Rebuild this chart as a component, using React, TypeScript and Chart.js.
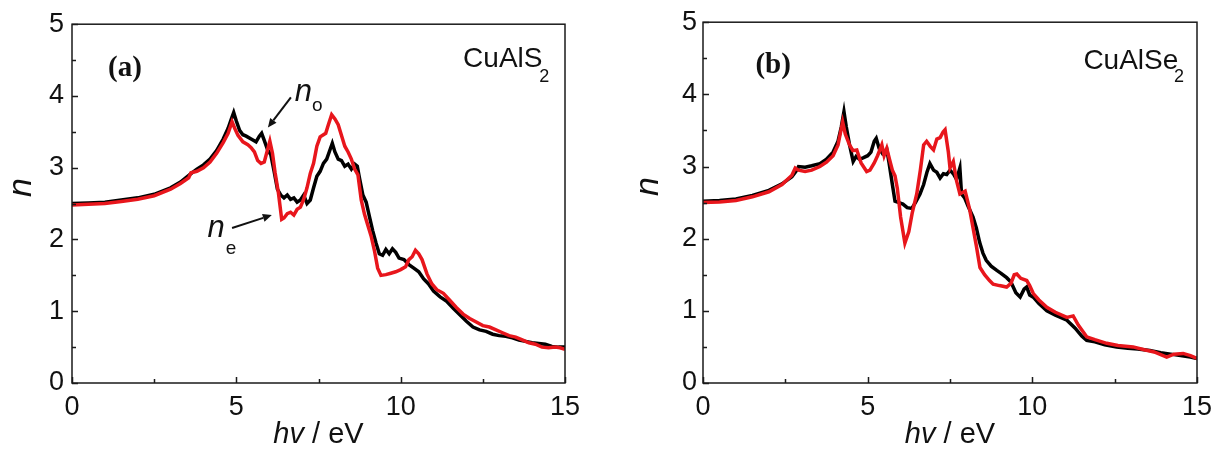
import { useEffect, useRef } from "react";
import { Chart, registerables } from "chart.js";

Chart.register(...registerables);

// ---------- Panel (a): CuAlS2 ----------
const aBlackX = [0, 0.5, 1, 1.5, 2, 2.5, 3, 3.3, 3.6, 3.8, 4.0, 4.2, 4.4, 4.6, 4.75, 4.85, 4.92, 5.0, 5.1, 5.2, 5.3, 5.45, 5.6, 5.7, 5.77, 5.85, 5.95, 6.05, 6.15, 6.25, 6.35, 6.45, 6.55, 6.65, 6.75, 6.85, 6.95, 7.05, 7.15, 7.25, 7.35, 7.45, 7.55, 7.65, 7.75, 7.85, 7.92, 8.0, 8.1, 8.2, 8.3, 8.4, 8.5, 8.6, 8.68, 8.75, 8.85, 8.95, 9.05, 9.15, 9.25, 9.35, 9.45, 9.55, 9.65, 9.75, 9.85, 9.95, 10.1, 10.25, 10.4, 10.55, 10.7, 10.85, 11.0, 11.2, 11.4, 11.6, 11.8, 12.0, 12.2, 12.4, 12.6, 12.8, 13.0, 13.2, 13.4, 13.6, 13.8, 14.0, 14.2, 14.4, 14.6, 14.8, 15.0];
const aBlackN = [2.50, 2.51, 2.52, 2.55, 2.58, 2.63, 2.72, 2.80, 2.91, 2.98, 3.04, 3.12, 3.24, 3.40, 3.55, 3.68, 3.77, 3.65, 3.52, 3.46, 3.44, 3.40, 3.36, 3.44, 3.48, 3.38, 3.25, 3.18, 2.95, 2.70, 2.62, 2.58, 2.62, 2.56, 2.58, 2.52, 2.55, 2.62, 2.50, 2.55, 2.72, 2.88, 2.95, 3.06, 3.12, 3.25, 3.34, 3.22, 3.12, 3.10, 3.02, 3.05, 2.98, 3.05, 3.02, 2.85, 2.62, 2.52, 2.32, 2.12, 1.95, 1.80, 1.78, 1.86, 1.80, 1.87, 1.82, 1.74, 1.72, 1.65, 1.60, 1.55, 1.45, 1.38, 1.28, 1.20, 1.14, 1.04, 0.95, 0.86, 0.78, 0.74, 0.72, 0.68, 0.66, 0.65, 0.63, 0.60, 0.58, 0.56, 0.55, 0.54, 0.51, 0.50, 0.50];

const aRedX = [0, 0.5, 1, 1.5, 2, 2.5, 3, 3.3, 3.55, 3.62, 3.8, 4.0, 4.2, 4.4, 4.6, 4.75, 4.87, 4.95, 5.05, 5.2, 5.35, 5.45, 5.55, 5.65, 5.75, 5.85, 5.95, 6.02, 6.1, 6.18, 6.28, 6.38, 6.45, 6.55, 6.65, 6.75, 6.85, 6.95, 7.05, 7.15, 7.25, 7.35, 7.45, 7.55, 7.65, 7.72, 7.8, 7.9, 8.0, 8.1, 8.2, 8.3, 8.4, 8.5, 8.6, 8.7, 8.8, 8.9, 9.0, 9.1, 9.2, 9.3, 9.4, 9.55, 9.7, 9.85, 10.0, 10.15, 10.25, 10.35, 10.45, 10.55, 10.65, 10.8, 10.95, 11.1, 11.3, 11.5, 11.7, 11.9, 12.1, 12.3, 12.5, 12.7, 12.9, 13.1, 13.3, 13.5, 13.7, 13.9, 14.1, 14.3, 14.5, 14.7, 14.85, 15.0];
const aRedN = [2.48, 2.49, 2.50, 2.53, 2.56, 2.61, 2.70, 2.78, 2.86, 2.93, 2.95, 3.00, 3.08, 3.20, 3.35, 3.48, 3.64, 3.55, 3.45, 3.36, 3.32, 3.28, 3.22, 3.10, 3.06, 3.08, 3.25, 3.37, 3.20, 2.93, 2.65, 2.28, 2.30, 2.36, 2.38, 2.34, 2.42, 2.45, 2.56, 2.72, 2.92, 3.06, 3.30, 3.43, 3.46, 3.48, 3.60, 3.74, 3.68, 3.60, 3.45, 3.30, 3.22, 3.12, 2.98, 2.90, 2.55, 2.35, 2.20, 2.05, 1.85, 1.60, 1.50, 1.51, 1.53, 1.55, 1.58, 1.62, 1.72, 1.76, 1.85, 1.80, 1.72, 1.52, 1.38, 1.30, 1.25, 1.15, 1.05, 0.96, 0.90, 0.85, 0.80, 0.78, 0.74, 0.70, 0.66, 0.64, 0.60, 0.56, 0.54, 0.50, 0.49, 0.50, 0.49, 0.47];

// ---------- Panel (b): CuAlSe2 ----------
const bBlackX = [0, 0.5, 1, 1.5, 2, 2.4, 2.7, 2.85, 2.9, 3.1, 3.3, 3.55, 3.75, 3.95, 4.1, 4.2, 4.28, 4.35, 4.45, 4.56, 4.65, 4.75, 4.86, 5.0, 5.1, 5.2, 5.26, 5.35, 5.45, 5.58, 5.65, 5.75, 5.83, 5.95, 6.07, 6.2, 6.34, 6.45, 6.59, 6.7, 6.8, 6.89, 7.0, 7.1, 7.2, 7.3, 7.4, 7.5, 7.6, 7.7, 7.8, 7.85, 7.95, 8.05, 8.2, 8.3, 8.4, 8.5, 8.6, 8.75, 8.92, 9.05, 9.22, 9.35, 9.5, 9.63, 9.75, 9.83, 9.92, 10.03, 10.2, 10.44, 10.7, 11.05, 11.3, 11.5, 11.65, 11.9, 12.2, 12.56, 12.9, 13.2, 13.57, 13.9, 14.2, 14.5, 14.8, 15.0];
const bBlackN = [2.52, 2.53, 2.55, 2.60, 2.67, 2.76, 2.86, 2.95, 3.00, 2.99, 3.01, 3.04, 3.10, 3.20, 3.35, 3.55, 3.76, 3.55, 3.30, 3.07, 3.14, 3.10, 3.12, 3.15, 3.20, 3.35, 3.39, 3.25, 3.18, 3.24, 3.05, 2.75, 2.52, 2.50, 2.48, 2.43, 2.42, 2.50, 2.62, 2.75, 2.92, 3.04, 2.95, 2.92, 2.84, 2.90, 2.89, 2.95, 2.90, 2.82, 2.98, 2.62, 2.56, 2.45, 2.30, 2.15, 1.95, 1.80, 1.70, 1.62, 1.56, 1.52, 1.46, 1.40, 1.25, 1.19, 1.30, 1.33, 1.22, 1.19, 1.10, 1.00, 0.94, 0.87, 0.76, 0.65, 0.59, 0.57, 0.53, 0.50, 0.48, 0.47, 0.45, 0.42, 0.40, 0.38, 0.36, 0.34];

const bRedX = [0, 0.5, 1, 1.5, 2, 2.4, 2.7, 2.8, 2.9, 3.1, 3.3, 3.55, 3.75, 3.95, 4.1, 4.24, 4.32, 4.45, 4.55, 4.67, 4.8, 4.97, 5.07, 5.2, 5.3, 5.43, 5.5, 5.58, 5.68, 5.75, 5.83, 5.9, 6.0, 6.13, 6.25, 6.35, 6.49, 6.6, 6.7, 6.79, 6.9, 7.0, 7.1, 7.2, 7.29, 7.35, 7.45, 7.5, 7.6, 7.7, 7.8, 7.96, 8.1, 8.2, 8.3, 8.41, 8.55, 8.7, 8.81, 9.0, 9.22, 9.35, 9.45, 9.53, 9.65, 9.83, 9.92, 10.03, 10.2, 10.44, 10.7, 11.05, 11.24, 11.4, 11.65, 11.9, 12.26, 12.6, 13.06, 13.4, 13.7, 14.08, 14.3, 14.58, 14.8, 15.0];
const bRedN = [2.50, 2.51, 2.53, 2.58, 2.65, 2.75, 2.88, 2.98, 2.95, 2.93, 2.95, 3.00, 3.06, 3.15, 3.30, 3.62, 3.45, 3.30, 3.22, 3.23, 3.05, 2.93, 2.95, 3.05, 3.15, 3.30, 3.15, 3.25, 3.07, 2.95, 2.87, 2.70, 2.30, 1.94, 2.10, 2.35, 2.62, 2.95, 3.30, 3.35, 3.28, 3.23, 3.38, 3.40, 3.48, 3.51, 3.20, 2.98, 3.07, 2.80, 2.62, 2.66, 2.40, 2.15, 1.90, 1.60, 1.50, 1.42, 1.37, 1.35, 1.33, 1.38, 1.50, 1.51, 1.45, 1.42, 1.35, 1.24, 1.15, 1.05, 0.98, 0.91, 0.93, 0.80, 0.64, 0.60, 0.55, 0.52, 0.50, 0.46, 0.43, 0.36, 0.40, 0.41, 0.38, 0.34];

// axis ranges / tick labels
const xMin = 0, xMax = 15, xStep = 5, xMinorStep = 2.5;
const yMin = 0, yMax = 5, yStep = 1, yMinorStep = 0.5;
const xTitleItalic = "hv";
const xTitleRest = " / eV";
const yTitle = "n";

const SANS = '"Liberation Sans", Arial, Helvetica, sans-serif';
const SERIF = '"Liberation Serif", "Times New Roman", serif';
const RED = "#e8161c";

type Run = { t: string; x: number; y: number; font: string; align?: CanvasTextAlign };
type Arrow = { x1: number; y1: number; x2: number; y2: number };

const pts = (xs: number[], ys: number[]) => xs.map((x, i) => ({ x, y: ys[i] }));

const decorPlugin = {
  id: "decor",
  afterDraw(chart: any, _args: any, opts: any) {
    const { ctx, chartArea: ca, scales } = chart;
    const sx = scales.x, sy = scales.y;
    ctx.save();
    ctx.strokeStyle = "#1a1a1a";
    ctx.lineWidth = 1.5;
    // inward ticks (major + minor)
    ctx.beginPath();
    for (let v = xMin; v <= xMax + 1e-6; v += xMinorStep) {
      const px = Math.round(sx.getPixelForValue(v)) + 0.5;
      const len = Math.abs(v % xStep) < 1e-6 ? 6 : 4;
      ctx.moveTo(px, ca.bottom);
      ctx.lineTo(px, ca.bottom - len);
    }
    for (let v = yMin; v <= yMax + 1e-6; v += yMinorStep) {
      const py = Math.round(sy.getPixelForValue(v)) + 0.5;
      const len = Math.abs(v % yStep) < 1e-6 ? 6 : 4;
      ctx.moveTo(ca.left, py);
      ctx.lineTo(ca.left + len, py);
    }
    ctx.stroke();
    // frame
    ctx.strokeRect(ca.left, ca.top, ca.right - ca.left, ca.bottom - ca.top);

    // x title: italic "hv" + " / eV"
    ctx.fillStyle = "#111";
    ctx.textBaseline = "alphabetic";
    const fi = `italic 29px ${SANS}`;
    const fn = `29px ${SANS}`;
    ctx.font = fi;
    const w1 = ctx.measureText(xTitleItalic).width;
    ctx.font = fn;
    const w2 = ctx.measureText(xTitleRest).width;
    const cx = (ca.left + ca.right) / 2;
    const bx = cx - (w1 + w2) / 2;
    ctx.font = fi;
    ctx.textAlign = "left";
    ctx.fillText(xTitleItalic, bx, ca.bottom + 60);
    ctx.font = fn;
    ctx.fillText(xTitleRest, bx + w1, ca.bottom + 60);

    // y title: italic n, rotated
    ctx.save();
    ctx.translate(ca.left - opts.yTitleDx, (ca.top + ca.bottom) / 2 - 16);
    ctx.rotate(-Math.PI / 2);
    ctx.font = `italic 34px ${SANS}`;
    ctx.textAlign = "center";
    ctx.textBaseline = "middle";
    ctx.fillText(yTitle, 0, 0);
    ctx.restore();

    // text annotations (positions in data units)
    (opts.runs as Run[]).forEach((r) => {
      ctx.font = r.font;
      ctx.textAlign = r.align || "left";
      ctx.textBaseline = "alphabetic";
      ctx.fillText(r.t, sx.getPixelForValue(r.x), sy.getPixelForValue(r.y));
    });

    // arrows
    (opts.arrows as Arrow[]).forEach((a) => {
      const x1 = sx.getPixelForValue(a.x1), y1 = sy.getPixelForValue(a.y1);
      const x2 = sx.getPixelForValue(a.x2), y2 = sy.getPixelForValue(a.y2);
      const ang = Math.atan2(y2 - y1, x2 - x1);
      const hl = 9, hw = 4;
      const bxp = x2 - hl * Math.cos(ang), byp = y2 - hl * Math.sin(ang);
      ctx.strokeStyle = "#111";
      ctx.lineWidth = 2;
      ctx.beginPath();
      ctx.moveTo(x1, y1);
      ctx.lineTo(bxp, byp);
      ctx.stroke();
      ctx.fillStyle = "#111";
      ctx.beginPath();
      ctx.moveTo(x2, y2);
      ctx.lineTo(bxp + hw * Math.sin(ang), byp - hw * Math.cos(ang));
      ctx.lineTo(bxp - hw * Math.sin(ang), byp + hw * Math.cos(ang));
      ctx.closePath();
      ctx.fill();
    });
    ctx.restore();
  },
};

type PanelProps = {
  blackX: number[]; blackN: number[]; redX: number[]; redN: number[];
  width: number; yWidth: number; padTop: number; padRight: number; yLabelPad: number;
  yTitleDx: number; runs: Run[]; arrows: Arrow[];
};

function Panel(p: PanelProps) {
  const ref = useRef<HTMLCanvasElement | null>(null);
  useEffect(() => {
    if (!ref.current) return;
    const chart = new Chart(ref.current, {
      type: "line",
      data: {
        datasets: [
          { label: "ne", data: pts(p.redX, p.redN), borderColor: RED, borderWidth: 3.5, pointRadius: 0, tension: 0 },
          { label: "no", data: pts(p.blackX, p.blackN), borderColor: "#000", borderWidth: 3.5, pointRadius: 0, tension: 0 },
        ],
      },
      options: {
        animation: false,
        responsive: false,
        events: [],
        layout: { padding: { top: p.padTop, right: p.padRight, left: 0, bottom: 0 } },
        plugins: {
          legend: { display: false },
          tooltip: { enabled: false },
          decor: { runs: p.runs, arrows: p.arrows, yTitleDx: p.yTitleDx },
        } as any,
        scales: {
          x: {
            type: "linear", min: xMin, max: xMax,
            grid: { display: false, drawTicks: false },
            border: { display: false },
            ticks: { stepSize: xStep, padding: 8, color: "#111", font: { family: SANS, size: 27 } },
            afterFit: (s: any) => { s.height = 71; },
          },
          y: {
            type: "linear", min: yMin, max: yMax,
            grid: { display: false, drawTicks: false },
            border: { display: false },
            ticks: { stepSize: yStep, padding: p.yLabelPad, color: "#111", font: { family: SANS, size: 27 } },
            afterFit: (s: any) => { s.width = p.yWidth; },
          },
        },
      },
      plugins: [decorPlugin],
    } as any);
    return () => chart.destroy();
  }, []);
  return <canvas ref={ref} width={p.width} height={454} style={{ display: "block" }} />;
}

const runsA: Run[] = [
  { t: "(a)", x: 1.61, y: 4.28, font: `bold 29px ${SERIF}`, align: "center" },
  { t: "CuAlS", x: 11.9, y: 4.41, font: `28px ${SANS}` },
  { t: "2", x: 14.22, y: 4.20, font: `18px ${SANS}` },
  { t: "n", x: 6.78, y: 3.93, font: `italic 31px ${SANS}` },
  { t: "o", x: 7.3, y: 3.79, font: `19px ${SANS}` },
  { t: "n", x: 4.12, y: 2.03, font: `italic 31px ${SANS}` },
  { t: "e", x: 4.68, y: 1.80, font: `19px ${SANS}` },
];
const arrowsA: Arrow[] = [
  { x1: 6.66, y1: 3.98, x2: 5.96, y2: 3.56 },
  { x1: 4.87, y1: 2.16, x2: 6.08, y2: 2.34 },
];
const runsB: Run[] = [
  { t: "(b)", x: 2.13, y: 4.30, font: `bold 29px ${SERIF}`, align: "center" },
  { t: "CuAlSe", x: 11.55, y: 4.35, font: `28px ${SANS}` },
  { t: "2", x: 14.3, y: 4.17, font: `18px ${SANS}` },
];

export default function App() {
  return (
    <div style={{ position: "absolute", left: 0, top: 0, width: 1225, height: 454, background: "#fff" }}>
      <div style={{ position: "absolute", left: 0, top: 0 }}>
        <Panel blackX={aBlackX} blackN={aBlackN} redX={aRedX} redN={aRedN}
          width={612} yWidth={72} padTop={19} padRight={47} yLabelPad={8} yTitleDx={50}
          runs={runsA} arrows={arrowsA} />
      </div>
      <div style={{ position: "absolute", left: 612, top: 0 }}>
        <Panel blackX={bBlackX} blackN={bBlackN} redX={bRedX} redN={bRedN}
          width={613} yWidth={91} padTop={20} padRight={28} yLabelPad={6} yTitleDx={54}
          runs={runsB} arrows={[]} />
      </div>
    </div>
  );
}
